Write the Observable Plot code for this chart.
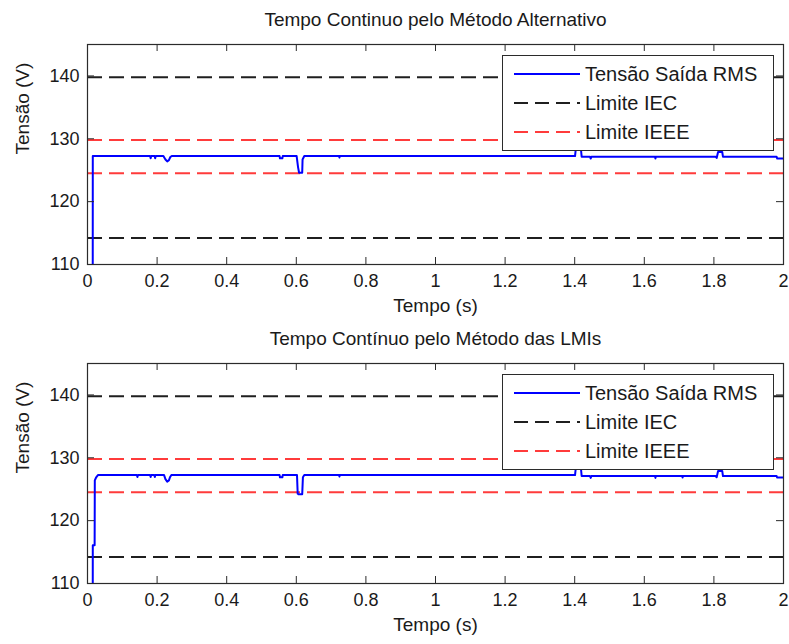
<!DOCTYPE html>
<html>
<head>
<meta charset="utf-8">
<script src="https://cdn.jsdelivr.net/npm/d3@7"></script>
<script src="https://cdn.jsdelivr.net/npm/@observablehq/plot@0.6"></script>
<style>
  body { margin: 0; background: #fff; }
  #chart { position: relative; width: 789px; height: 644px; font-family: "Liberation Sans", Arial, sans-serif; color: #1a1a1a; }
  #chart svg { display: block; }
  .legend { position: absolute; background: #fff; border: 1px solid #2b2b2b; box-sizing: border-box; }
  .legend .row { position: absolute; left: 0; height: 24px; width: 100%; }
  .legend .row svg { position: absolute; left: 11px; top: 0; }
  .legend .row span { position: absolute; left: 82px; top: 0; line-height: 24px; font-size: 20px; white-space: nowrap; }
</style>
</head>
<body>
<div id="chart"></div>
<script>
// Axis ticks
const xTicks = [0, 0.2, 0.4, 0.6, 0.8, 1, 1.2, 1.4, 1.6, 1.8, 2];
const yTicks = [110, 120, 130, 140];

// Voltage limits (V)
const iecLimits = [114.2, 139.8];
const ieeeLimits = [124.5, 129.8];

// Panel titles and legend entries
const titles = ["Tempo Continuo pelo Método Alternativo", "Tempo Contínuo pelo Método das LMIs"];
const legendLabels = ["Tensão Saída RMS", "Limite IEC", "Limite IEEE"];

// RMS output voltage, alternative method
const timeAlt = [0, 0.0150, 0.0152, 0.1800, 0.1815, 0.1830, 0.1930, 0.1945, 0.1960, 0.2180, 0.2240, 0.2290, 0.2340, 0.2380, 0.2420,
  0.5520, 0.5530, 0.5600, 0.5610, 0.6010, 0.6050, 0.6080, 0.6170, 0.6180, 0.6230, 0.7230, 0.7240, 0.7250,
  1.4010, 1.4030, 1.4180, 1.4200, 1.4440, 1.4460, 1.4480, 1.6310, 1.6320, 1.6330,
  1.8050, 1.8080, 1.8120, 1.8240, 1.8260, 1.9800, 1.9820, 2.0000];
const rmsAlt = [95, 95, 127.25, 127.25, 126.9, 127.25, 127.25, 126.9, 127.25, 127.25, 126.7, 126.4, 126.6, 127.1, 127.25,
  127.25, 126.9, 126.9, 127.25, 127.25, 125.5, 124.6, 124.6, 126.7, 127.25, 127.25, 127.0, 127.25,
  127.25, 128.3, 128.3, 127.15, 127.15, 126.85, 127.15, 127.15, 126.85, 127.15,
  127.15, 126.95, 127.9, 127.9, 127.15, 127.15, 126.85, 126.85];

// RMS output voltage, LMI method
const timeLmi = [0, 0.0150, 0.0152, 0.0205, 0.0210, 0.0250, 0.0300, 0.1420, 0.1435, 0.1450, 0.1800, 0.1815, 0.1830, 0.1920, 0.1935, 0.1950,
  0.2200, 0.2240, 0.2290, 0.2340, 0.2370, 0.2410, 0.5520, 0.5530, 0.5600, 0.5610, 0.6020, 0.6040, 0.6060, 0.6170, 0.6190, 0.6230,
  0.7230, 0.7240, 0.7250, 1.4010, 1.4030, 1.4180, 1.4200, 1.4440, 1.4460, 1.4480, 1.6310, 1.6320, 1.6330, 1.7090, 1.7100, 1.7110,
  1.8050, 1.8080, 1.8120, 1.8240, 1.8260, 1.9800, 1.9820, 2.0000];
const rmsLmi = [95, 95, 116.1, 116.1, 126.4, 126.9, 127.25, 127.25, 126.95, 127.25, 127.25, 126.95, 127.25, 127.25, 126.95, 127.25,
  127.25, 126.6, 126.2, 126.4, 126.9, 127.25, 127.25, 126.9, 126.9, 127.25, 127.25, 124.3, 124.2, 124.2, 126.9, 127.25,
  127.25, 127.0, 127.25, 127.25, 128.3, 128.3, 127.1, 127.1, 126.8, 127.1, 127.1, 126.8, 127.1, 127.1, 126.85, 127.1,
  127.1, 126.9, 127.9, 127.9, 127.1, 127.1, 126.85, 126.85];

const series = [
  {t: timeAlt, v: rmsAlt},
  {t: timeLmi, v: rmsLmi}
];

const blue = "#0000ff", black = "#1f1f1f", red = "#ff3b3b", axisColor = "#2b2b2b";
const legendStyles = [
  {stroke: blue, dash: null},
  {stroke: black, dash: "14,7"},
  {stroke: red, dash: "14,7"}
];

// Two stacked panels: [svg height, marginTop, marginBottom]
const layouts = [[320, 44, 56], [324, 43, 61]];
const W = 789, ML = 87, MR = 6, TICK = 7;

const chart = document.getElementById("chart");
let offset = 0;

series.forEach((s, i) => {
  const [H, MT, MB] = layouts[i];
  const frameH = H - MT - MB;
  const frameW = W - ML - MR;
  const data = s.t.map((t, k) => ({t, v: s.v[k]}));

  const plot = Plot.plot({
    width: W, height: H,
    marginLeft: ML, marginRight: MR, marginTop: MT, marginBottom: MB,
    style: {fontFamily: "'Liberation Sans', Arial, sans-serif", fontSize: "18px", color: "#1a1a1a", background: "#fff"},
    x: {domain: [0, 2], ticks: xTicks, tickSize: 0, tickPadding: 10, tickFormat: d => String(Math.round(d * 10) / 10), label: null},
    y: {domain: [110, 145], ticks: yTicks, tickSize: 0, tickPadding: 8, label: null},
    marks: [
      Plot.ruleY(iecLimits, {stroke: black, strokeWidth: 2, strokeDasharray: "15,7"}),
      Plot.ruleY(ieeeLimits, {stroke: red, strokeWidth: 2, strokeDasharray: "15,7"}),
      Plot.line(data, {x: "t", y: "v", stroke: blue, strokeWidth: 2, clip: true}),
      Plot.frame({stroke: axisColor, strokeWidth: 1.2}),
      // inward tick marks on all four sides
      Plot.tickX(xTicks, {x: d => d, insetTop: frameH - TICK, stroke: axisColor}),
      Plot.tickX(xTicks, {x: d => d, insetBottom: frameH - TICK, stroke: axisColor}),
      Plot.tickY(yTicks, {y: d => d, insetLeft: frameW - TICK, stroke: axisColor}),
      Plot.tickY(yTicks, {y: d => d, insetRight: frameW - TICK, stroke: axisColor}),
      Plot.text([titles[i]], {frameAnchor: "top", dy: -25, lineAnchor: "middle", fontSize: 19, fill: "#1a1a1a"}),
      Plot.text(["Tempo (s)"], {frameAnchor: "bottom", dy: 41, lineAnchor: "middle", fontSize: 19, fill: "#1a1a1a"}),
      Plot.text(["Tensão (V)"], {frameAnchor: "left", dx: -65, rotate: -90, lineAnchor: "middle", fontSize: 19, fill: "#1a1a1a"})
    ]
  });
  chart.appendChild(plot);

  // legend box in the upper right of the axes
  const box = document.createElement("div");
  box.className = "legend";
  box.style.left = "502px";
  box.style.top = (offset + MT + 11) + "px";
  box.style.width = "272px";
  box.style.height = "96px";
  legendLabels.forEach((label, r) => {
    const row = document.createElement("div");
    row.className = "row";
    row.style.top = (6 + r * 29) + "px";
    const st = legendStyles[r];
    row.innerHTML = `<svg width="66" height="24"><line x1="0" x2="66" y1="12" y2="12" stroke="${st.stroke}" stroke-width="2" ${st.dash ? `stroke-dasharray="${st.dash}"` : ""}/></svg><span>${label}</span>`;
    box.appendChild(row);
  });
  chart.appendChild(box);

  offset += H;
});
</script>
</body>
</html>
